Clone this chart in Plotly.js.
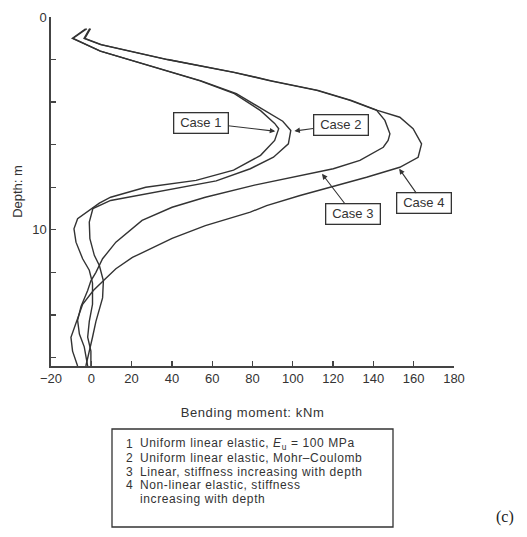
<!DOCTYPE html>
<html><head><meta charset="utf-8">
<script src="https://cdn.plot.ly/plotly-3.0.1.min.js"></script>
<style>html,body{margin:0;padding:0;background:#fff}</style>
</head><body><div id="chart" style="width:527px;height:537px"></div>
<script>
// Depth (m) and bending moment (kNm)
const case1Depth  = [0.55, 1.0, 1.6, 2.5, 3.0, 3.6, 4.4, 5.0, 5.25, 5.8, 6.5, 7.2, 7.68, 8.0, 8.47, 8.75, 9.0, 9.48, 9.95, 10.58, 11.36, 11.9, 12.5, 13.5, 14.3, 15.05, 15.7, 16.4];
const case1Moment = [-2.8, -9.4, 4.5, 37, 54, 71, 84, 91, 93, 91, 84, 70.6, 52, 27, 9.6, 4, 0.5, -6.8, -8.6, -7.6, -4.3, -1, 0.6, 0.6, -1, -1.8, -0.2, -0.2];

const case2Depth  = [0.55, 1.0, 1.6, 2.5, 3.0, 3.6, 4.4, 4.9, 5.33, 5.96, 6.59, 7.13, 7.7, 8.0, 8.3, 8.62, 9.0, 9.64, 10.42, 11.2, 11.68, 12.4, 13.2, 14.3, 15.05, 15.7, 16.4];
const case2Moment = [-2.2, -9.0, 4.5, 37.5, 54.5, 72, 86.5, 95, 99, 97.8, 90.4, 78.9, 62, 45, 26, 9.6, 0.8, -1, -0.7, 1.5, 4, 6, 5.6, 2.3, 0.6, -1, -2.7];

const case3Depth  = [0.55, 1.0, 1.3, 2.0, 2.6, 3.0, 3.45, 3.92, 4.39, 4.86, 5.49, 5.8, 6.12, 6.74, 7.13, 7.45, 7.9, 8.47, 8.94, 9.56, 10.58, 11.36, 12.0, 12.4, 12.85, 13.6, 14.25, 14.9, 15.5, 16.4];
const case3Moment = [-0.8, -3.6, 4.6, 37.6, 70.6, 88.8, 111.9, 128.4, 141.6, 145.7, 148.2, 147.3, 144.9, 133.3, 120.1, 103.6, 81, 56.6, 40.1, 25.2, 12.2, 5.6, 2.3, -0.2, -1.8, -5.1, -6.8, -5.9, -3.5, -1.8];

const case4Depth  = [0.55, 1.0, 1.3, 2.0, 2.6, 3.0, 3.45, 3.92, 4.39, 4.71, 5.25, 5.96, 6.59, 7.06, 7.53, 8.39, 8.86, 9.17, 9.8, 10.4, 11.3, 11.83, 12.3, 12.85, 13.5, 13.95, 14.6, 15.05, 15.7, 16.4];
const case4Moment = [-0.4, -3.2, 5, 38, 71, 89.5, 112.5, 129, 142, 153.1, 159.7, 163.9, 162.2, 153.1, 136.6, 103.6, 87, 78.9, 56.6, 40.1, 20.4, 12.2, 7, 1, -4.3, -5.9, -8.4, -10.1, -9.3, -6.8];

const caseLabels = ["Case 1", "Case 2", "Case 3", "Case 4"];
const xTickVals = [-20, 0, 20, 40, 60, 80, 100, 120, 140, 160, 180];
const legendNums = ["1", "2", "3", "4", ""];
const legendTexts = ["Uniform linear elastic, <i>E</i><sub>u</sub> = 100 MPa",
                     "Uniform linear elastic, Mohr\u2013Coulomb",
                     "Linear, stiffness increasing with depth",
                     "Non-linear elastic, stiffness",
                     "increasing with depth"];
const panelLabel = "(c)";

const lineStyle = {color: "#333", width: 1.4};
const series = [[case1Moment, case1Depth], [case2Moment, case2Depth], [case3Moment, case3Depth], [case4Moment, case4Depth]];
const data = series.map((s, i) => ({
  x: s[0], y: s[1], type: "scatter", mode: "lines", line: lineStyle,
  name: caseLabels[i], showlegend: false, hoverinfo: "skip"
}));

const font = "Liberation Sans, Arial, sans-serif";
const W = 527, H = 537, L = 51, R = 73, T = 17, B = 171;
const pw = W - L - R, ph = H - T - B;
const px = v => (v - L) / pw;          // pixel -> paper x
const py = v => (H - B - v) / ph;      // pixel -> paper y

const boxes = [
  {x: 91.3, y: 5.37, ax: 54.3, ay: 4.96},
  {x: 100.8, y: 5.36, ax: 123.7, ay: 5.07},
  {x: 114.5, y: 7.37, ax: 129.7, ay: 9.25},
  {x: 152.8, y: 7.13, ax: 164.9, ay: 8.76}
];
const annotations = boxes.map((b, i) => ({
  x: b.x, y: b.y, ax: b.ax, ay: b.ay, xref: "x", yref: "y", axref: "x", ayref: "y",
  text: caseLabels[i], showarrow: true, arrowhead: 2, arrowsize: 1, arrowwidth: 1.1, arrowcolor: "#333",
  bordercolor: "#333", borderwidth: 1.3, borderpad: 2, bgcolor: "#fff", width: 49, height: 15,
  font: {family: font, size: 13, color: "#333"}
}));

const wide = s => '<span style="letter-spacing:0.6px">' + s + '</span>';
const legendY = [444, 458, 471.5, 485, 498.5];
legendTexts.forEach((t, i) => {
  if (legendNums[i]) annotations.push({xref: "paper", yref: "paper", x: px(124), y: py(legendY[i]),
    xanchor: "left", yanchor: "middle", text: legendNums[i], showarrow: false,
    font: {family: font, size: 12, color: "#333"}});
  annotations.push({xref: "paper", yref: "paper", x: px(138), y: py(legendY[i]),
    xanchor: "left", yanchor: "middle", text: wide(t), showarrow: false,
    font: {family: font, size: 12, color: "#333"}});
});
annotations.push({xref: "paper", yref: "paper", x: px(505), y: py(517), xanchor: "center", yanchor: "middle",
  text: panelLabel, showarrow: false, font: {family: "Liberation Serif, Times New Roman, serif", size: 16, color: "#222"}});

const axTick = {ticks: "inside", ticklen: 5, tickwidth: 1.3, tickcolor: "#444"};
const layout = {
  width: W, height: H,
  margin: {l: L, r: R, t: T, b: B, pad: 0},
  paper_bgcolor: "#fff", plot_bgcolor: "#fff",
  font: {family: font, size: 13, color: "#333"},
  showlegend: false,
  xaxis: Object.assign({
    range: [-20, 180], tickvals: xTickVals,
    showline: true, linecolor: "#444", linewidth: 1.6, showgrid: false, zeroline: false,
    tickfont: {family: font, size: 13, color: "#333"},
    title: {text: wide("Bending moment: kNm"), font: {family: font, size: 13, color: "#333"}, standoff: 22}
  }, axTick),
  yaxis: Object.assign({
    range: [16.4, 0], tick0: 0, dtick: 10,
    minor: {dtick: 2, ticks: "inside", ticklen: 5, tickwidth: 1.3, tickcolor: "#444", showgrid: false},
    showline: true, linecolor: "#444", linewidth: 1.6, showgrid: false, zeroline: false,
    tickfont: {family: font, size: 13, color: "#333"},
    title: {text: "Depth: m", font: {family: font, size: 13, color: "#333"}, standoff: 7}
  }, axTick),
  shapes: [{type: "rect", xref: "paper", yref: "paper", x0: px(112), x1: px(393), y0: py(429), y1: py(527),
    line: {color: "#333", width: 1.3}}],
  annotations: annotations
};

Plotly.newPlot("chart", data, layout, {displayModeBar: false, staticPlot: true});
</script></body></html>
